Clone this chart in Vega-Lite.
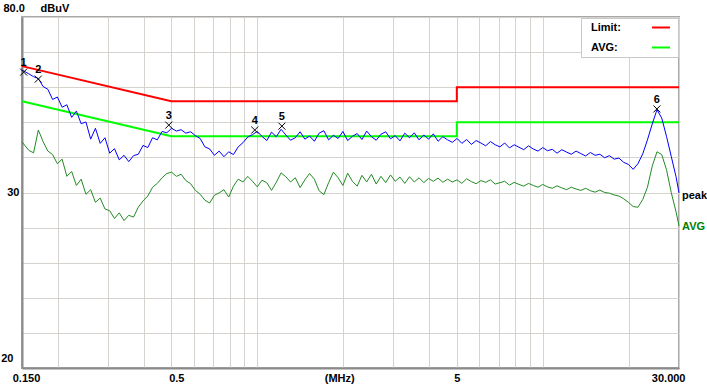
{
  "$schema": "https://vega.github.io/schema/vega-lite/v6.json",
  "width": 657,
  "height": 351,
  "autosize": {"type": "none"},
  "padding": {"left": 22, "top": 17, "right": 28, "bottom": 16},
  "background": "white",
  "config": {"view": {"stroke": "#a8a8a8", "strokeWidth": 2}, "font": "Liberation Sans"},
  "datasets": {
    "limits": [
      {"s": "Limit:", "f": 0.15, "v": 66, "i": 0},
      {"s": "Limit:", "f": 0.5, "v": 56, "i": 1},
      {"s": "Limit:", "f": 5, "v": 56, "i": 2},
      {"s": "Limit:", "f": 5, "v": 60, "i": 3},
      {"s": "Limit:", "f": 30, "v": 60, "i": 4},
      {"s": "AVG:", "f": 0.15, "v": 56, "i": 0},
      {"s": "AVG:", "f": 0.5, "v": 46, "i": 1},
      {"s": "AVG:", "f": 5, "v": 46, "i": 2},
      {"s": "AVG:", "f": 5, "v": 50, "i": 3},
      {"s": "AVG:", "f": 30, "v": 50, "i": 4}
    ],
    "trace": [
      {"f": 0.15, "peak": 64.9, "AVG": 44.4},
      {"f": 0.1585, "peak": 63.8, "AVG": 42.0},
      {"f": 0.1647, "peak": 63.0, "AVG": 41.3},
      {"f": 0.1711, "peak": 62.5, "AVG": 47.8},
      {"f": 0.1778, "peak": 60.2, "AVG": 44.5},
      {"f": 0.1848, "peak": 59.4, "AVG": 41.8},
      {"f": 0.192, "peak": 56.5, "AVG": 40.8},
      {"f": 0.1995, "peak": 57.2, "AVG": 38.2},
      {"f": 0.2073, "peak": 54.3, "AVG": 39.5},
      {"f": 0.2154, "peak": 55.0, "AVG": 34.6},
      {"f": 0.2239, "peak": 51.4, "AVG": 36.0},
      {"f": 0.2326, "peak": 53.2, "AVG": 32.0},
      {"f": 0.2417, "peak": 49.6, "AVG": 33.8},
      {"f": 0.2512, "peak": 50.1, "AVG": 29.5},
      {"f": 0.261, "peak": 45.2, "AVG": 30.8},
      {"f": 0.2712, "peak": 48.3, "AVG": 27.2},
      {"f": 0.2818, "peak": 44.0, "AVG": 28.4},
      {"f": 0.2929, "peak": 45.6, "AVG": 25.3},
      {"f": 0.3043, "peak": 41.2, "AVG": 24.8},
      {"f": 0.3162, "peak": 42.5, "AVG": 22.6},
      {"f": 0.3286, "peak": 39.3, "AVG": 24.2},
      {"f": 0.3415, "peak": 40.6, "AVG": 22.0},
      {"f": 0.3548, "peak": 38.8, "AVG": 23.5},
      {"f": 0.3687, "peak": 40.5, "AVG": 23.0},
      {"f": 0.3831, "peak": 40.9, "AVG": 25.8},
      {"f": 0.3981, "peak": 43.4, "AVG": 27.6},
      {"f": 0.4137, "peak": 42.8, "AVG": 29.0},
      {"f": 0.4299, "peak": 45.6, "AVG": 31.5},
      {"f": 0.4467, "peak": 45.0, "AVG": 32.6},
      {"f": 0.4642, "peak": 47.4, "AVG": 34.2},
      {"f": 0.4823, "peak": 47.0, "AVG": 35.4},
      {"f": 0.5012, "peak": 48.3, "AVG": 35.8},
      {"f": 0.5208, "peak": 47.5, "AVG": 34.6},
      {"f": 0.5412, "peak": 47.9, "AVG": 35.2},
      {"f": 0.5623, "peak": 46.9, "AVG": 33.4},
      {"f": 0.5843, "peak": 47.3, "AVG": 32.5},
      {"f": 0.6072, "peak": 46.2, "AVG": 30.6},
      {"f": 0.631, "peak": 45.4, "AVG": 29.5},
      {"f": 0.6556, "peak": 43.0, "AVG": 27.8},
      {"f": 0.6813, "peak": 42.4, "AVG": 27.0},
      {"f": 0.7079, "peak": 40.6, "AVG": 29.2},
      {"f": 0.7356, "peak": 41.8, "AVG": 29.9},
      {"f": 0.7644, "peak": 40.2, "AVG": 30.8},
      {"f": 0.7943, "peak": 41.6, "AVG": 28.7},
      {"f": 0.8254, "peak": 40.8, "AVG": 31.8},
      {"f": 0.8577, "peak": 43.0, "AVG": 33.8},
      {"f": 0.8913, "peak": 44.2, "AVG": 33.0},
      {"f": 0.9261, "peak": 45.8, "AVG": 34.6},
      {"f": 0.9624, "peak": 46.5, "AVG": 33.2},
      {"f": 1.0, "peak": 47.4, "AVG": 31.6},
      {"f": 1.039, "peak": 46.0, "AVG": 33.5},
      {"f": 1.08, "peak": 44.8, "AVG": 32.8},
      {"f": 1.122, "peak": 47.2, "AVG": 30.6},
      {"f": 1.166, "peak": 45.9, "AVG": 32.9},
      {"f": 1.212, "peak": 48.0, "AVG": 35.6},
      {"f": 1.259, "peak": 46.4, "AVG": 34.5},
      {"f": 1.308, "peak": 44.9, "AVG": 33.0},
      {"f": 1.359, "peak": 45.6, "AVG": 34.2},
      {"f": 1.413, "peak": 47.3, "AVG": 31.4},
      {"f": 1.468, "peak": 45.2, "AVG": 33.6},
      {"f": 1.525, "peak": 46.1, "AVG": 35.4},
      {"f": 1.585, "peak": 44.6, "AVG": 33.8},
      {"f": 1.647, "peak": 46.9, "AVG": 30.5},
      {"f": 1.711, "peak": 47.6, "AVG": 29.4},
      {"f": 1.778, "peak": 45.0, "AVG": 32.8},
      {"f": 1.848, "peak": 46.3, "AVG": 35.8},
      {"f": 1.92, "peak": 45.4, "AVG": 34.2},
      {"f": 1.995, "peak": 47.4, "AVG": 32.0},
      {"f": 2.073, "peak": 44.8, "AVG": 35.5},
      {"f": 2.154, "peak": 46.0, "AVG": 33.2},
      {"f": 2.239, "peak": 46.8, "AVG": 31.8},
      {"f": 2.326, "peak": 45.1, "AVG": 34.9},
      {"f": 2.417, "peak": 47.5, "AVG": 33.0},
      {"f": 2.512, "peak": 45.9, "AVG": 35.2},
      {"f": 2.61, "peak": 44.9, "AVG": 32.4},
      {"f": 2.712, "peak": 46.6, "AVG": 34.6},
      {"f": 2.818, "peak": 47.3, "AVG": 32.8},
      {"f": 2.929, "peak": 45.3, "AVG": 35.0},
      {"f": 3.043, "peak": 46.2, "AVG": 33.2},
      {"f": 3.162, "peak": 44.7, "AVG": 34.4},
      {"f": 3.286, "peak": 46.9, "AVG": 32.6},
      {"f": 3.415, "peak": 45.6, "AVG": 34.5},
      {"f": 3.548, "peak": 47.0, "AVG": 33.0},
      {"f": 3.687, "peak": 45.0, "AVG": 34.2},
      {"f": 3.831, "peak": 46.4, "AVG": 32.8},
      {"f": 3.981, "peak": 45.2, "AVG": 34.0},
      {"f": 4.137, "peak": 46.7, "AVG": 33.2},
      {"f": 4.299, "peak": 44.6, "AVG": 34.1},
      {"f": 4.467, "peak": 45.9, "AVG": 32.9},
      {"f": 4.642, "peak": 45.0, "AVG": 33.8},
      {"f": 4.823, "peak": 44.3, "AVG": 33.0},
      {"f": 5.012, "peak": 45.4, "AVG": 33.6},
      {"f": 5.208, "peak": 44.0, "AVG": 32.6},
      {"f": 5.412, "peak": 45.1, "AVG": 33.9},
      {"f": 5.623, "peak": 43.7, "AVG": 33.1},
      {"f": 5.843, "peak": 44.8, "AVG": 32.5},
      {"f": 6.072, "peak": 44.1, "AVG": 33.4},
      {"f": 6.31, "peak": 43.3, "AVG": 32.9},
      {"f": 6.556, "peak": 44.5, "AVG": 33.6},
      {"f": 6.813, "peak": 43.6, "AVG": 32.4},
      {"f": 7.079, "peak": 43.0, "AVG": 32.8},
      {"f": 7.356, "peak": 44.1, "AVG": 33.2},
      {"f": 7.644, "peak": 42.7, "AVG": 32.1},
      {"f": 7.943, "peak": 43.6, "AVG": 32.9},
      {"f": 8.254, "peak": 42.9, "AVG": 32.3},
      {"f": 8.577, "peak": 42.2, "AVG": 31.8},
      {"f": 8.913, "peak": 43.3, "AVG": 32.6},
      {"f": 9.261, "peak": 42.4, "AVG": 32.0},
      {"f": 9.624, "peak": 41.8, "AVG": 31.5},
      {"f": 10.0, "peak": 42.8, "AVG": 32.3},
      {"f": 10.39, "peak": 41.9, "AVG": 31.6},
      {"f": 10.8, "peak": 42.3, "AVG": 31.2},
      {"f": 11.22, "peak": 41.2, "AVG": 31.9},
      {"f": 11.66, "peak": 42.2, "AVG": 31.3},
      {"f": 12.12, "peak": 41.5, "AVG": 30.8},
      {"f": 12.59, "peak": 40.9, "AVG": 31.5},
      {"f": 13.08, "peak": 41.8, "AVG": 31.0},
      {"f": 13.59, "peak": 41.1, "AVG": 30.6},
      {"f": 14.13, "peak": 40.4, "AVG": 31.2},
      {"f": 14.68, "peak": 41.4, "AVG": 30.5},
      {"f": 15.25, "peak": 40.6, "AVG": 30.1},
      {"f": 15.85, "peak": 40.9, "AVG": 30.7},
      {"f": 16.47, "peak": 39.9, "AVG": 30.0},
      {"f": 17.11, "peak": 40.5, "AVG": 29.8},
      {"f": 17.78, "peak": 39.5, "AVG": 29.3},
      {"f": 18.48, "peak": 39.8, "AVG": 29.0},
      {"f": 19.2, "peak": 38.6, "AVG": 28.2},
      {"f": 19.95, "peak": 38.0, "AVG": 27.2},
      {"f": 20.73, "peak": 36.6, "AVG": 26.0},
      {"f": 21.54, "peak": 38.2, "AVG": 25.8},
      {"f": 22.39, "peak": 41.0, "AVG": 28.0},
      {"f": 23.26, "peak": 45.0, "AVG": 31.5},
      {"f": 24.17, "peak": 49.5, "AVG": 37.5},
      {"f": 25.12, "peak": 53.6, "AVG": 41.6},
      {"f": 26.1, "peak": 51.2, "AVG": 40.8},
      {"f": 27.12, "peak": 46.0, "AVG": 36.5},
      {"f": 28.18, "peak": 40.3, "AVG": 30.0},
      {"f": 29.29, "peak": 34.5, "AVG": 24.5},
      {"f": 30, "peak": 29.9, "AVG": 20.5}
    ],
    "markers": [
      {"f": 0.152, "v": 64.3, "k": "1"},
      {"f": 0.171, "v": 62.3, "k": "2"},
      {"f": 0.49, "v": 49.2, "k": "3"},
      {"f": 0.98, "v": 47.8, "k": "4"},
      {"f": 1.22, "v": 48.9, "k": "5"},
      {"f": 25.1, "v": 53.8, "k": "6"}
    ],
    "ends": [
      {"f": 30, "v": 28.9, "lab": "peak"},
      {"f": 30, "v": 20.2, "lab": "AVG"}
    ]
  },
  "layer": [
    {
      "data": {"name": "limits"},
      "mark": {"type": "line", "strokeWidth": 2},
      "encoding": {
        "x": {
          "field": "f", "type": "quantitative",
          "scale": {"type": "log", "domain": [0.15, 30], "nice": false},
          "axis": {
            "values": [0.15, 0.2, 0.3, 0.4, 0.5, 0.6, 0.7, 0.8, 0.9, 1, 2, 3, 4, 5, 6, 7, 8, 9, 10, 20, 30],
            "tickCount": 40,
            "title": null, "ticks": false, "grid": true,
            "gridColor": "#d6d3ce", "gridWidth": 1,
            "domainColor": "#8a8a8a", "domainWidth": 2,
            "labelExpr": "datum.value==0.15?'0.150':datum.value==0.5?'0.5':datum.value==2?'(MHz)':datum.value==5?'5':datum.value==30?'30.000':''",
            "labelFont": "Liberation Sans", "labelFontWeight": "bold", "labelFontSize": 11, "labelColor": "#000000",
            "labelPadding": 4, "labelFlush": false, "labelOverlap": false,
            "labelAlign": {"condition": {"test": "datum.value==30", "value": "right"}, "value": "center"},
            "labelOffset": {"condition": [{"test": "datum.value==30", "value": 6}, {"test": "datum.value==0.15", "value": 4}, {"test": "datum.value==0.5", "value": 5}, {"test": "datum.value==2", "value": -4}], "value": 0}
          }
        },
        "y": {
          "field": "v", "type": "quantitative",
          "scale": {"domain": [-20, 80], "nice": false, "zero": false},
          "axis": {
            "values": [-20, -10, 0, 10, 20, 30, 40, 50, 60, 70, 80],
            "tickCount": 30,
            "title": "dBuV", "titleAngle": 0, "titleAlign": "left", "titleBaseline": "middle",
            "titleX": 18, "titleY": -9,
            "titleFont": "Liberation Sans", "titleFontWeight": "bold", "titleFontSize": 11, "titleColor": "#000000",
            "ticks": false, "grid": true, "gridColor": "#d6d3ce", "gridWidth": 1,
            "domainColor": "#8a8a8a", "domainWidth": 2,
            "labelExpr": "datum.value==80?'80.0':datum.value==30?'30':datum.value==-20?'20':''",
            "labelFont": "Liberation Sans", "labelFontWeight": "bold", "labelFontSize": 11, "labelColor": "#000000",
            "labelFlush": false, "labelOverlap": false, "labelBaseline": "middle",
            "labelAlign": {"condition": {"test": "datum.value==80", "value": "left"}, "value": "right"},
            "labelPadding": {"condition": [{"test": "datum.value==80", "value": 19}, {"test": "datum.value==-20", "value": 9}], "value": 3},
            "labelOffset": {"condition": [{"test": "datum.value==80", "value": -9}, {"test": "datum.value==-20", "value": -10}], "value": 0}
          }
        },
        "color": {
          "field": "s", "type": "nominal",
          "scale": {"domain": ["Limit:", "AVG:", "peak", "AVG"], "range": ["#ff0000", "#00ff00", "#0000ff", "#228b22"]},
          "legend": {
            "values": ["Limit:", "AVG:"], "title": null,
            "orient": "top-right", "offset": 1, "padding": 4,
            "fillColor": "#ffffff", "strokeColor": "#c8c8c8",
            "symbolType": "M-2,0L2,0", "symbolSize": 81, "symbolStrokeWidth": 2,
            "symbolOffset": 70.5, "labelOffset": -75.5, "rowPadding": 8,
            "labelFont": "Liberation Sans", "labelFontWeight": "bold", "labelFontSize": 11, "labelColor": "#000000"
          }
        },
        "order": {"field": "i", "type": "quantitative"}
      }
    },
    {
      "data": {"name": "trace"},
      "transform": [{"fold": ["peak", "AVG"], "as": ["s", "v"]}],
      "mark": {"type": "line", "strokeWidth": 1},
      "encoding": {
        "x": {"field": "f", "type": "quantitative"},
        "y": {"field": "v", "type": "quantitative"},
        "color": {"field": "s", "type": "nominal"}
      }
    },
    {
      "data": {"name": "markers"},
      "mark": {"type": "point", "shape": "M-1,-1L1,1M-1,1L1,-1", "size": 49, "filled": false, "stroke": "#000000", "strokeWidth": 1, "opacity": 1},
      "encoding": {
        "x": {"field": "f", "type": "quantitative"},
        "y": {"field": "v", "type": "quantitative"}
      }
    },
    {
      "data": {"name": "markers"},
      "mark": {"type": "text", "dy": -9, "font": "Liberation Sans", "fontSize": 11, "fontWeight": "bold", "color": "#000000"},
      "encoding": {
        "x": {"field": "f", "type": "quantitative"},
        "y": {"field": "v", "type": "quantitative"},
        "text": {"field": "k"}
      }
    },
    {
      "data": {"name": "ends"},
      "transform": [{"filter": "datum.lab == 'peak'"}],
      "mark": {"type": "text", "align": "left", "dx": 3, "font": "Liberation Sans", "fontSize": 11, "fontWeight": "bold", "color": "#000000"},
      "encoding": {
        "x": {"field": "f", "type": "quantitative"},
        "y": {"field": "v", "type": "quantitative"},
        "text": {"field": "lab"}
      }
    },
    {
      "data": {"name": "ends"},
      "transform": [{"filter": "datum.lab == 'AVG'"}],
      "mark": {"type": "text", "align": "left", "dx": 3, "font": "Liberation Sans", "fontSize": 11, "fontWeight": "bold", "color": "#008000"},
      "encoding": {
        "x": {"field": "f", "type": "quantitative"},
        "y": {"field": "v", "type": "quantitative"},
        "text": {"field": "lab"}
      }
    }
  ]
}
